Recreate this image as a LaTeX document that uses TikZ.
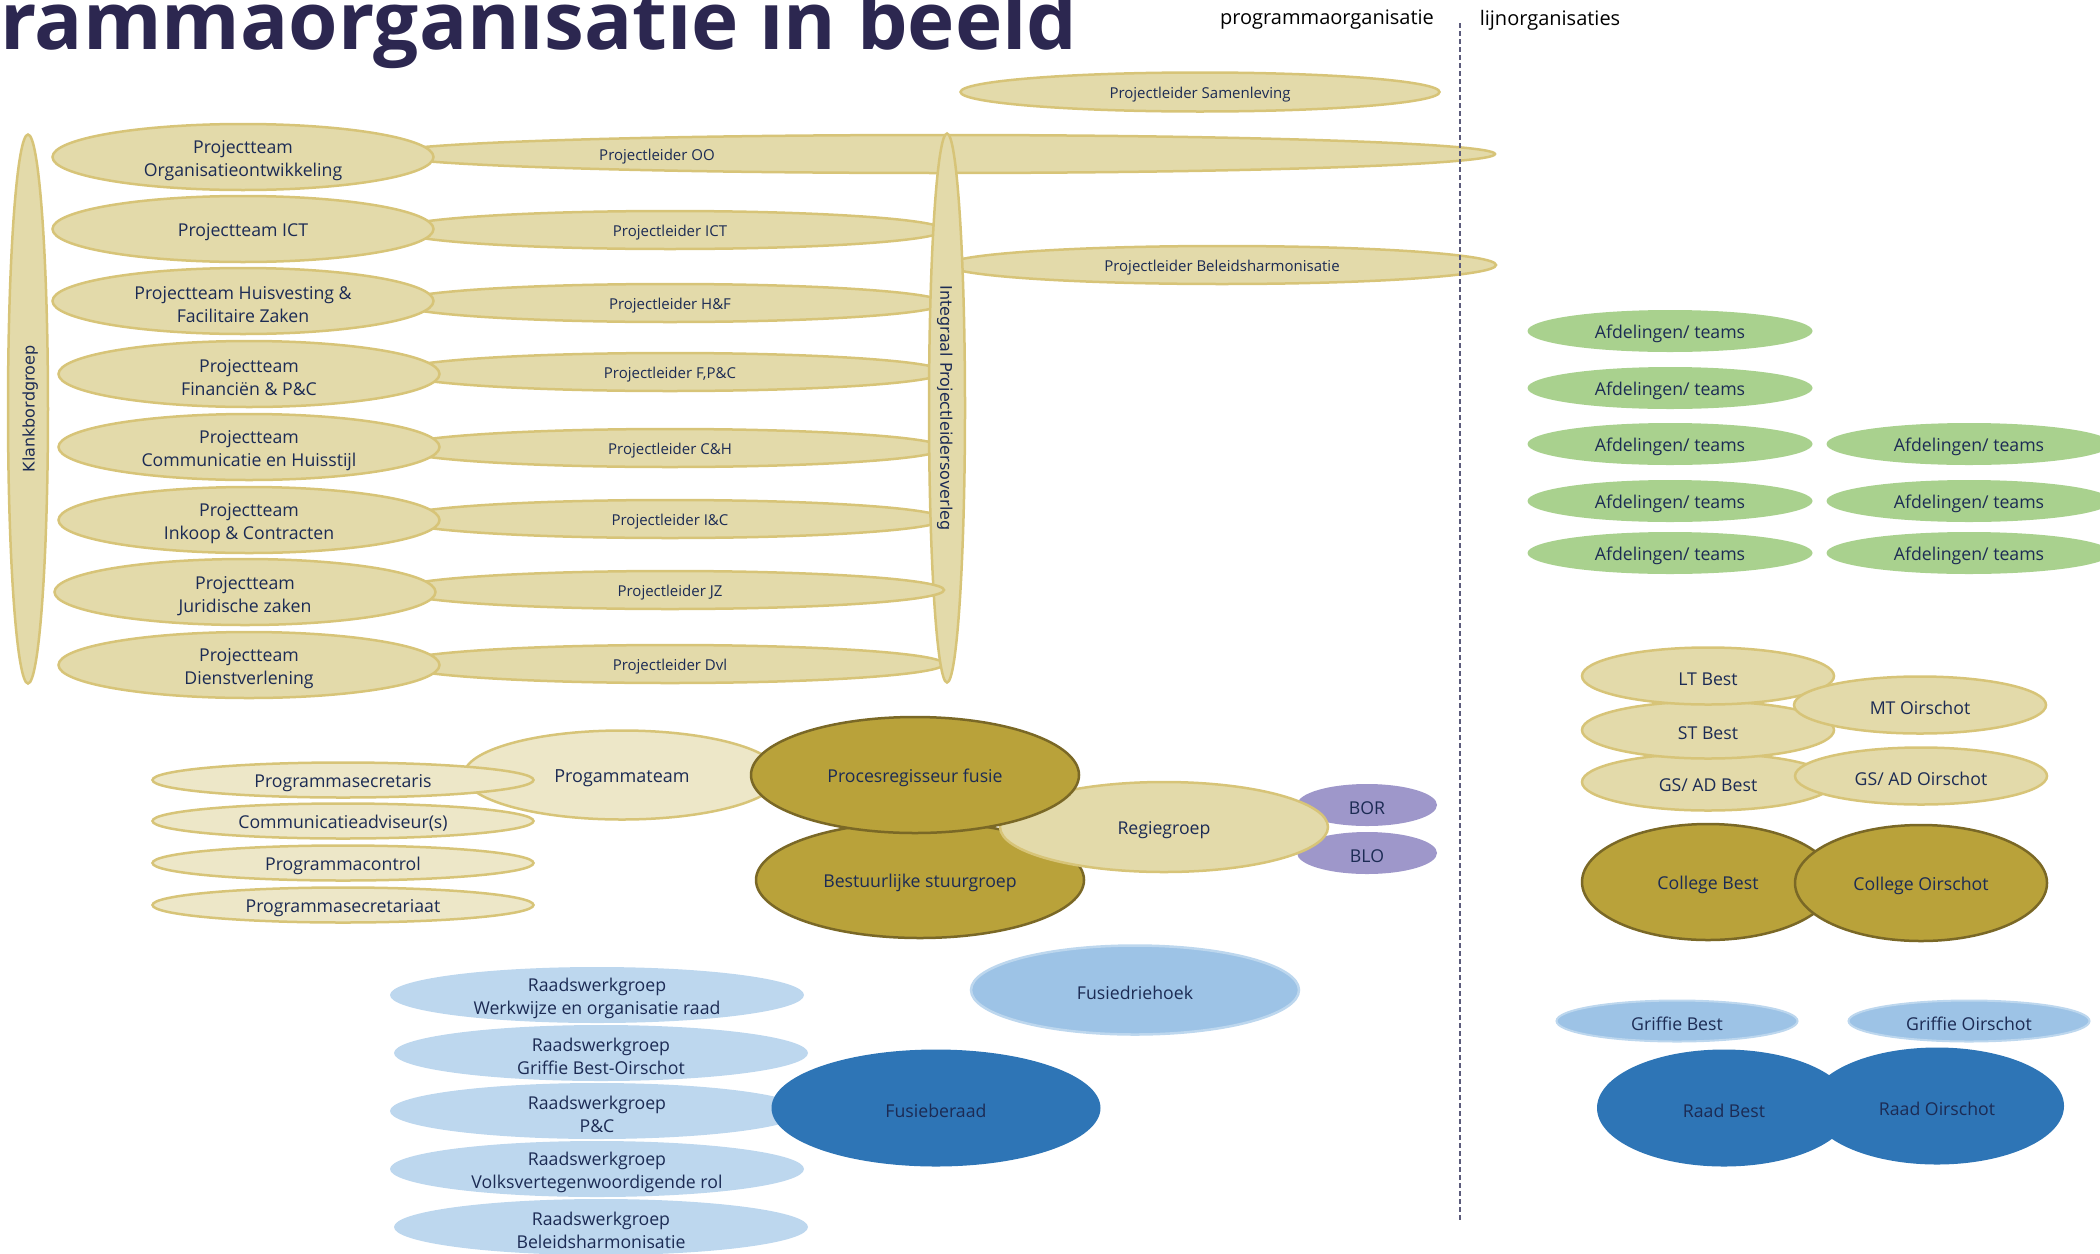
\documentclass[tikz,border=0pt]{standalone}
\usepackage{fontspec}
\setmainfont{Open Sans}
\newfontfamily\vfont{DejaVu Sans}
\usetikzlibrary{shapes.geometric}
\definecolor{tekst}{HTML}{1C2B54}
\definecolor{kopkleur}{HTML}{2C2750}
\definecolor{zand}{HTML}{E3DAAA}
\definecolor{zandrand}{HTML}{D7C478}
\definecolor{lichtzand}{HTML}{EDE7C8}
\definecolor{olijf}{HTML}{B9A23A}
\definecolor{olijfrand}{HTML}{7A6826}
\definecolor{paars}{HTML}{9E97CA}
\definecolor{groen}{HTML}{A9D18E}
\definecolor{lichtblauw}{HTML}{BDD7EE}
\definecolor{middenblauw}{HTML}{9DC3E6}
\definecolor{donkerblauw}{HTML}{2E75B6}
\definecolor{streep}{HTML}{5B5B7B}

\begin{document}
\begin{tikzpicture}[x=1pt,y=-1pt,
 een/.style={execute at begin node={\rule{0pt}{1.05em}}},
 twee/.style={execute at begin node={\rule{0pt}{44pt}}, inner ysep=-12pt},
 ov/.style={ellipse, inner sep=0pt, align=center, text=tekst, font=\fontsize{17.7}{23}\selectfont, een},
 zandov/.style={ov, fill=zand, draw=zandrand, line width=2.5pt},
 lichtov/.style={ov, fill=lichtzand, draw=zandrand, line width=2.5pt},
 olijfov/.style={ov, fill=olijf, draw=olijfrand, line width=2.5pt},
 pl/.style={zandov, minimum width=548, minimum height=38, font=\fontsize{15}{18}\selectfont},
 pt/.style={zandov, minimum width=381, minimum height=66},
 staand/.style={zandov, minimum width=549, minimum height=36, font=\vfont\fontsize{16}{18}\selectfont},
 afd/.style={ov, fill=groen, minimum width=285, minimum height=42},
 rwg/.style={ov, twee, fill=lichtblauw, minimum width=414, minimum height=56},
 lijn/.style={ov, minimum width=252, minimum height=57},
]
\useasboundingbox (0,0) rectangle (2100,1253);

\node[anchor=base west, inner sep=0pt, text=kopkleur, font=\fontsize{80}{80}\selectfont\bfseries] (kop) at (0,49) {rammaorganisatie in beeld};
\node[font=\fontsize{20}{22}\selectfont] (prog) at (1327,20) {programmaorganisatie};
\node[font=\fontsize{20}{22}\selectfont] (lijnorg) at (1550,20) {lijnorganisaties};

\node[zandov, minimum width=479, minimum height=39, font=\fontsize{15}{18}\selectfont] (plsam) at (1200,92) {Projectleider Samenleving};
\node[zandov, minimum width=1110, minimum height=38, label={[xshift=-283pt, text=tekst, font=\fontsize{15}{18}\selectfont]center:\rule{0pt}{1.05em}Projectleider OO}] (ploo) at (940,154) {};
\node[pl] (plbh) at (1222,265) {Projectleider Beleidsharmonisatie};
\foreach \y/\a [count=\i] in {230/ICT, 303/H\&F, 372/{F,P\&C}, 448/C\&H, 519/I\&C, 664/Dvl}
  \node[pl] (pl\i) at (670,\y) {Projectleider \a};

\node[staand, rotate=-90] (ipo) at (947,408) {Integraal Projectleidersoverleg};
\node[pl] (pljz) at (670,590) {Projectleider JZ};

\foreach \x/\y/\s/\t [count=\i] in {243/157/twee/{Projectteam\\Organisatieontwikkeling}, 243/229/een/{Projectteam ICT},
  243/301/twee/{Projectteam Huisvesting \&\\Facilitaire Zaken}, 249/374/twee/{Projectteam\\Financiën \& P\&C},
  249/447/twee/{Projectteam\\Communicatie en Huisstijl}, 249/520/twee/{Projectteam\\Inkoop \& Contracten},
  245/592/twee/{Projectteam\\Juridische zaken}, 249/665/twee/{Projectteam\\Dienstverlening}}
  \node[pt, \s] (pt\i) at (\x,\y) {\t};
\node[staand, rotate=90, minimum height=40] (kbg) at (28,409) {Klankbordgroep};

\node[ov, fill=paars, minimum width=140, minimum height=42] (bor) at (1367,805) {BOR};
\node[ov, fill=paars, minimum width=140, minimum height=42] (blo) at (1367,853) {BLO};
\node[olijfov, minimum width=328, minimum height=116] (bsg) at (920,880) {Bestuurlijke stuurgroep};
\node[zandov, minimum width=328, minimum height=90] (rg) at (1164,827) {Regiegroep};
\node[lichtov, minimum width=316, minimum height=89, font=\fontsize{18}{22}\selectfont] (pgt) at (622,775) {Progammateam};
\node[olijfov, minimum width=328, minimum height=116] (prf) at (915,775) {Procesregisseur fusie};
\foreach \y/\t [count=\i] in {780/Programmasecretaris, 821/Communicatieadviseur(s), 863/Programmacontrol, 905/Programmasecretariaat}
  \node[lichtov, minimum width=381, minimum height=35] (ps\i) at (343,\y) {\t};

\foreach \x/\y/\t [count=\i] in {597/995/{Werkwijze en organisatie raad}, 601/1053/{Griffie Best-Oirschot}, 597/1111/{P\&C},
  597/1169/{Volksvertegenwoordigende rol}, 601/1227/{Beleidsharmonisatie}}
  \node[rwg] (rw\i) at (\x,\y) {Raadswerkgroep\\\t};
\node[ov, fill=donkerblauw, minimum width=329, minimum height=117] (fb) at (936,1108) {Fusieberaad};
\node[ov, fill=middenblauw, draw=lichtblauw, line width=2.5pt, minimum width=328, minimum height=89] (fdh) at (1135,990) {Fusiedriehoek};

\foreach \y [count=\i] in {331,388,444,501,553}
  \node[afd] (afdb\i) at (1670,\y) {Afdelingen/ teams};
\foreach \y [count=\i] in {444,501,553}
  \node[afd] (afdo\i) at (1969,\y) {Afdelingen/ teams};

\node[lijn, zandov] (gsb) at (1708,782) {GS/ AD Best};
\node[lijn, zandov] (stb) at (1708,730) {ST Best};
\node[lijn, zandov] (ltb) at (1708,676) {LT Best};
\node[lijn, zandov] (mto) at (1920,705) {MT Oirschot};
\node[lijn, zandov] (gso) at (1921,776) {GS/ AD Oirschot};
\node[lijn, olijfov, minimum height=116] (colb) at (1708,882) {College Best};
\node[lijn, olijfov, minimum height=116] (colo) at (1921,883) {College Oirschot};
\node[ov, fill=middenblauw, draw=lichtblauw, line width=2pt, minimum width=241, minimum height=41] (grb) at (1677,1021) {Griffie Best};
\node[ov, fill=middenblauw, draw=lichtblauw, line width=2pt, minimum width=241, minimum height=41] (gro) at (1969,1021) {Griffie Oirschot};
\node[ov, fill=donkerblauw, minimum width=254, minimum height=117] (rdb) at (1724,1108) {Raad Best};
\node[ov, fill=donkerblauw, minimum width=254, minimum height=117] (rdo) at (1937,1106) {Raad Oirschot};

\coordinate (dtop) at (1460,23);
\coordinate (dbot) at (1460,1221);
\draw[streep, line width=1.3pt, dash pattern=on 5pt off 3pt] (dtop) -- (dbot);
\end{tikzpicture}
\end{document}
